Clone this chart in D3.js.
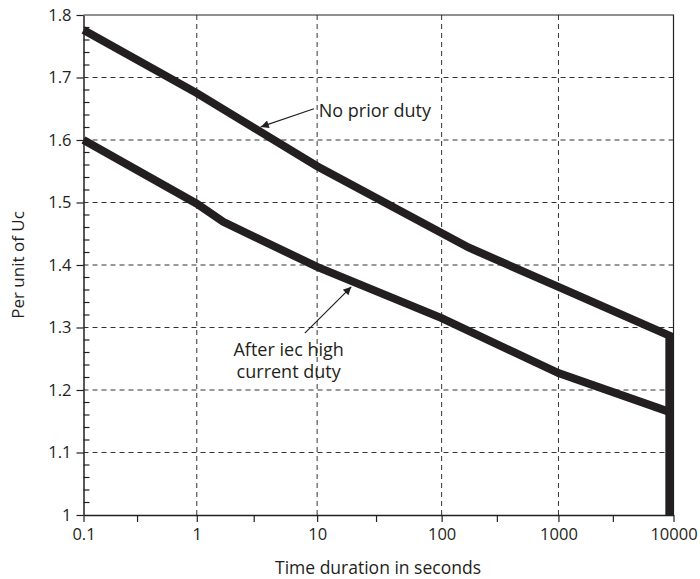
<!DOCTYPE html>
<html>
<head>
<meta charset="utf-8">
<script src="https://cdn.jsdelivr.net/npm/d3@7"></script>
<style>
  body { margin: 0; background: #fff; }
  svg { display: block; }
  text { font-family: 'Open Sans', sans-serif; fill: #231f20; }
</style>
</head>
<body>
<svg></svg>
<script>
// Data (time in seconds, per unit of Uc)
var noPriorTime = [0.1, 1, 10, 170, 1000, 9200, 9200];
var noPriorValue = [1.776, 1.675, 1.558, 1.428, 1.365, 1.287, 1.0];
var afterIecTime = [0.1, 1, 1.66, 10, 100, 1000, 9200];
var afterIecValue = [1.6, 1.498, 1.469, 1.397, 1.315, 1.227, 1.165];

var xTicks = [0.1, 1, 10, 100, 1000, 10000];
var xMinorTicks = [0.3, 3, 30, 300, 3000];
var xTickLabels = ['0.1', '1', '10', '100', '1000', '10000'];
var yTicks = [1, 1.1, 1.2, 1.3, 1.4, 1.5, 1.6, 1.7, 1.8];
var yTickLabels = ['1', '1.1', '1.2', '1.3', '1.4', '1.5', '1.6', '1.7', '1.8'];

// Dimensions
var width = 700;
var height = 579;
var plotLeft = 83.5;
var plotRight = 673.5;
var plotTop = 15;
var plotBottom = 515;
// the printed decades are not quite equal, so the log axis is piecewise
var decadeFraction = [0, 0.192, 0.396, 0.607, 0.805, 1];
var ink = '#231f20';

var svg = d3.select('svg')
  .attr('width', width)
  .attr('height', height);

var x = d3.scaleLog()
  .domain(xTicks)
  .range(decadeFraction.map(function (f) { return plotLeft + f * (plotRight - plotLeft); }));

var y = d3.scaleLinear()
  .domain([1, 1.8])
  .range([plotBottom, plotTop]);

// Dashed grid
svg.append('g')
  .selectAll('line')
  .data(xTicks.slice(1, -1))
  .enter()
  .append('line')
    .attr('x1', function (d) { return x(d); })
    .attr('x2', function (d) { return x(d); })
    .attr('y1', plotTop)
    .attr('y2', plotBottom)
    .attr('stroke', '#333')
    .attr('stroke-dasharray', '5,4');

svg.append('g')
  .selectAll('line')
  .data(yTicks.slice(1, -1))
  .enter()
  .append('line')
    .attr('x1', plotLeft)
    .attr('x2', plotRight)
    .attr('y1', function (d) { return y(d); })
    .attr('y2', function (d) { return y(d); })
    .attr('stroke', '#333')
    .attr('stroke-dasharray', '5,4');

// Frame (top and right)
svg.append('path')
  .attr('d', 'M' + plotLeft + ',' + plotTop + 'H' + plotRight + 'V' + plotBottom)
  .attr('fill', 'none')
  .attr('stroke', ink)
  .attr('stroke-width', 1.2);

// X axis
var xAxis = d3.axisBottom(x)
  .tickValues(xTicks)
  .tickFormat(function (d, i) { return xTickLabels[i]; })
  .tickSizeInner(7)
  .tickSizeOuter(0)
  .tickPadding(6);

svg.append('g')
  .attr('transform', 'translate(0,' + plotBottom + ')')
  .call(xAxis);

svg.append('g')
  .attr('transform', 'translate(0,' + plotBottom + ')')
  .selectAll('line')
  .data(xMinorTicks)
  .enter()
  .append('line')
    .attr('x1', function (d) { return x(d); })
    .attr('x2', function (d) { return x(d); })
    .attr('y1', 0)
    .attr('y2', 7)
    .attr('stroke', ink)
    .attr('stroke-width', 1.2);

// Y axis
var yAxis = d3.axisLeft(y)
  .tickValues(yTicks)
  .tickFormat(function (d, i) { return yTickLabels[i]; })
  .tickSizeInner(7)
  .tickSizeOuter(0)
  .tickPadding(5);

svg.append('g')
  .attr('transform', 'translate(' + plotLeft + ',0)')
  .call(yAxis);

// minor y ticks point into the plot
svg.append('g')
  .attr('transform', 'translate(' + plotLeft + ',0)')
  .selectAll('line')
  .data(d3.range(1.02, 1.8, 0.02).filter(function (d) {
    return Math.abs(d * 10 - Math.round(d * 10)) > 0.01;
  }))
  .enter()
  .append('line')
    .attr('x1', 0)
    .attr('x2', 6)
    .attr('y1', function (d) { return y(d); })
    .attr('y2', function (d) { return y(d); })
    .attr('stroke', ink)
    .attr('stroke-width', 1.2);

svg.selectAll('.domain')
  .attr('stroke', ink)
  .attr('stroke-width', 1.5);

svg.selectAll('.tick line')
  .attr('stroke', ink)
  .attr('stroke-width', 1.2);

svg.selectAll('.tick text')
  .attr('font-size', 16.5)
  .attr('font-family', "'Open Sans', sans-serif")
  .attr('fill', ink);

// Axis titles
svg.append('text')
  .attr('text-anchor', 'middle')
  .attr('x', 378)
  .attr('y', 574)
  .attr('font-size', 17.5)
  .text('Time duration in seconds');

svg.append('text')
  .attr('text-anchor', 'middle')
  .attr('transform', 'translate(24,' + ((plotTop + plotBottom) / 2) + ')rotate(-90)')
  .attr('font-size', 17)
  .text('Per unit of Uc');

// Curves
var line = d3.line()
  .x(function (d) { return x(d[0]); })
  .y(function (d) { return y(d[1]); });

var noPrior = d3.zip(noPriorTime, noPriorValue);
var afterIec = d3.zip(afterIecTime, afterIecValue);

svg.append('path')
  .datum(afterIec)
  .attr('d', line)
  .attr('fill', 'none')
  .attr('stroke', ink)
  .attr('stroke-width', 8);

svg.append('path')
  .datum(noPrior)
  .attr('d', line)
  .attr('fill', 'none')
  .attr('stroke', ink)
  .attr('stroke-width', 8)
  .attr('stroke-linejoin', 'miter');

// Annotations with arrows
svg.append('defs').append('marker')
  .attr('id', 'arrow')
  .attr('viewBox', '0 0 10 10')
  .attr('refX', 10)
  .attr('refY', 5)
  .attr('markerWidth', 12)
  .attr('markerHeight', 8)
  .attr('markerUnits', 'userSpaceOnUse')
  .attr('orient', 'auto')
  .append('path')
    .attr('d', 'M0,0L10,5L0,10z')
    .attr('fill', ink);

svg.append('line')
  .attr('x1', x(9.4))
  .attr('y1', y(1.65))
  .attr('x2', x(3.4))
  .attr('y2', y(1.621))
  .attr('stroke', ink)
  .attr('stroke-width', 1.2)
  .attr('marker-end', 'url(#arrow)');

svg.append('text')
  .attr('x', x(10.3))
  .attr('y', y(1.648) + 7)
  .attr('font-size', 18)
  .text('No prior duty');

svg.append('line')
  .attr('x1', x(7.9))
  .attr('y1', y(1.291))
  .attr('x2', x(18.8))
  .attr('y2', y(1.365))
  .attr('stroke', ink)
  .attr('stroke-width', 1.2)
  .attr('marker-end', 'url(#arrow)');

var note = svg.append('text')
  .attr('text-anchor', 'middle')
  .attr('font-size', 18);

note.append('tspan')
  .attr('x', x(5.8))
  .attr('y', y(1.291) + 23)
  .text('After iec high');

note.append('tspan')
  .attr('x', x(5.8))
  .attr('y', y(1.291) + 45)
  .text('current duty');
</script>
</body>
</html>
